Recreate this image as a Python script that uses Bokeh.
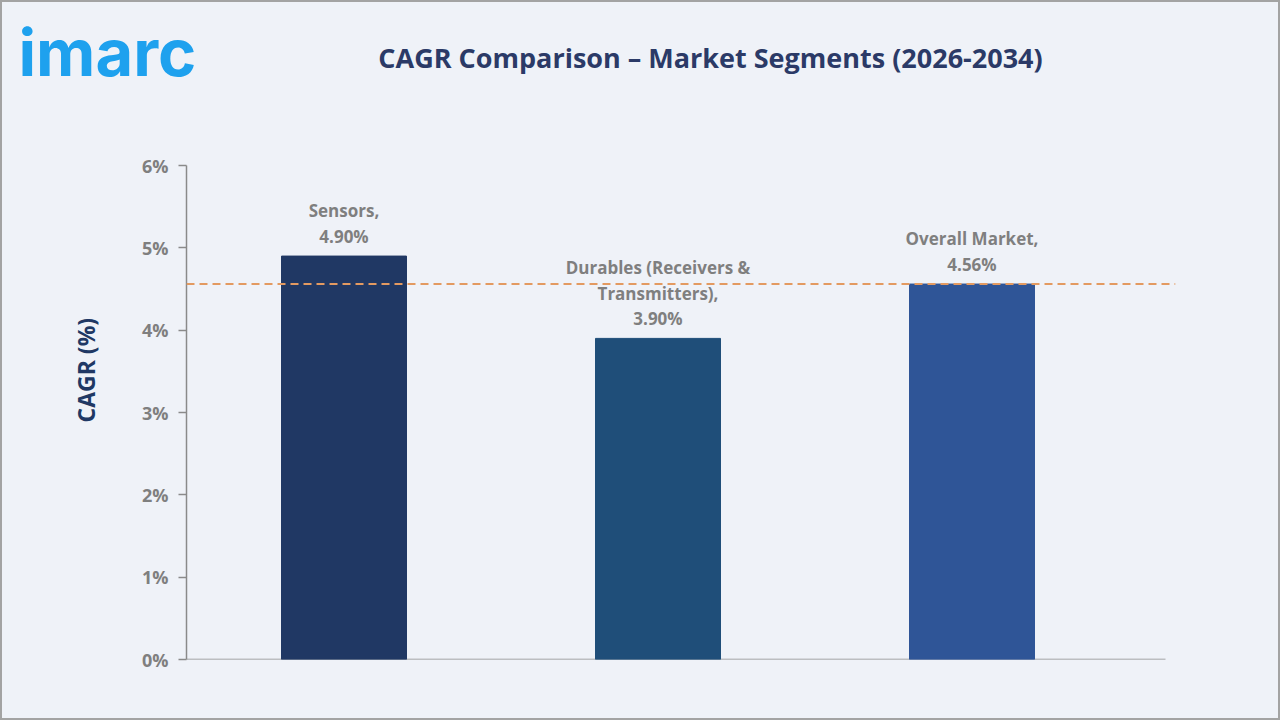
from bokeh.plotting import figure
from bokeh.layouts import column
from bokeh.models import ColumnDataSource, Span, Label, Title, FixedTicker, PrintfTickFormatter, Range1d
from bokeh.core.properties import value
from bokeh.embed import file_html
from bokeh.resources import INLINE

# --- data ---
segments = ["Sensors", "Durables (Receivers & Transmitters)", "Overall Market"]
label_lines = [["Sensors,"], ["Durables (Receivers &", "Transmitters),"], ["Overall Market,"]]
cagr = [4.90, 3.90, 4.56]
bar_colors = ["#203864", "#1f4e79", "#2f5597"]
y_ticks = [0, 1, 2, 3, 4, 5, 6]
overall_cagr = cagr[2]

title_text = "CAGR Comparison \u2013 Market Segments (2026-2034)"
logo_text = "imarc"
y_title = "CAGR (%)"

# --- layout geometry (page pixels) ---
W, H, BORDER = 1280, 720, 2
HEADER_H = 120
FRAME_L, FRAME_R, FRAME_T, FRAME_B = 186, 1175, 165, 659
BAR_STEP = 314.0           # pixels between bar centres
FIRST_BAR_PX = 343.5
X_START = -(FIRST_BAR_PX - FRAME_L) / BAR_STEP
X_END = X_START + (FRAME_R - FRAME_L) / BAR_STEP
Y_MAX = 6.0
bg = "#eff2f8"


def to_x(px):
    return X_START + (px - FRAME_L) / BAR_STEP


# --- header strip: logo and chart title (data units = page pixels) ---
header = figure(
    width=W - 2 * BORDER, height=HEADER_H,
    output_backend="svg", toolbar_location=None,
    x_range=Range1d(BORDER, W - BORDER), y_range=Range1d(BORDER + HEADER_H, BORDER),
    x_axis_type=None, y_axis_type=None, min_border=0,
    background_fill_color=bg, border_fill_color=bg,
)
header.frame_align = False
header.outline_line_color = None
header.grid.visible = False
header.add_layout(Label(x=710, y=57, text=title_text, text_font="Open Sans",
                        text_font_style="bold", text_font_size="27px", text_color="#2b3a67",
                        text_align="center", text_baseline="middle"))
header.add_layout(Label(x=18, y=52, text=logo_text, text_font="Inter",
                        text_font_style="bold", text_font_size="65px", text_color="#1ea1ee",
                        text_align="left", text_baseline="middle"))

# --- bar chart ---
xs = list(range(len(segments)))
labels = ["\n".join(lines + [f"{v:.2f}%"]) for lines, v in zip(label_lines, cagr)]
source = ColumnDataSource(data=dict(x=xs, top=cagr, color=bar_colors, label=labels, name=segments))

top_edge = BORDER + HEADER_H
p = figure(
    width=W - 2 * BORDER, height=H - 2 * BORDER - HEADER_H,
    output_backend="svg", toolbar_location=None,
    x_range=Range1d(X_START, X_END), y_range=Range1d(0, Y_MAX),
    x_axis_type=None,
    min_border_left=FRAME_L - BORDER, min_border_right=(W - BORDER) - FRAME_R,
    min_border_top=FRAME_T - top_edge, min_border_bottom=(H - BORDER) - FRAME_B,
    background_fill_color=bg, border_fill_color=bg,
)
p.frame_align = False
p.outline_line_color = None
p.xgrid.visible = False
p.ygrid.visible = False

# y axis
ax = p.yaxis[0]
ax.ticker = FixedTicker(ticks=y_ticks)
ax.formatter = PrintfTickFormatter(format="%d%%")
ax.axis_line_color = "#8a8a8a"
ax.axis_line_width = 1.5
ax.major_tick_line_color = "#8a8a8a"
ax.major_tick_line_width = 1.5
ax.major_tick_out = 8
ax.major_tick_in = 0
ax.minor_tick_line_color = None
ax.major_label_text_font = "Open Sans"
ax.major_label_text_font_style = "bold"
ax.major_label_text_font_size = "18px"
ax.major_label_text_color = "#7f7f7f"
ax.major_label_standoff = 10

# y-axis title, starting 237 px above the frame's bottom edge
p.add_layout(Title(text=y_title, align="left", offset=237, standoff=74,
                   text_font="Open Sans", text_font_style="bold", text_font_size="23px",
                   text_color="#203864"), "left")

# baseline at 0%
p.segment(x0=[X_START], y0=[0], x1=[to_x(1165)], y1=[0], line_color="#8a8a8a", line_width=1.5)

# bars
p.vbar(x="x", top="top", width=125 / BAR_STEP, color="color", source=source)

# reference line at the overall market CAGR
p.add_layout(Span(location=overall_cagr, dimension="width", line_color="#e39a61",
                  line_width=2, line_dash="8 5"))

# value labels above each bar
p.text(x="x", y="top", text="label", source=source,
       text_font=value("Open Sans"), text_font_style="bold", text_font_size="17px",
       text_color="#7f7f7f", text_align="center", text_baseline="bottom",
       text_line_height=1.12, y_offset=-8)

page = column(header, p, spacing=0)
page.styles = {"border": f"{BORDER}px solid #a3a3a3", "background-color": bg}

open("out.html", "w").write(file_html(page, INLINE))
